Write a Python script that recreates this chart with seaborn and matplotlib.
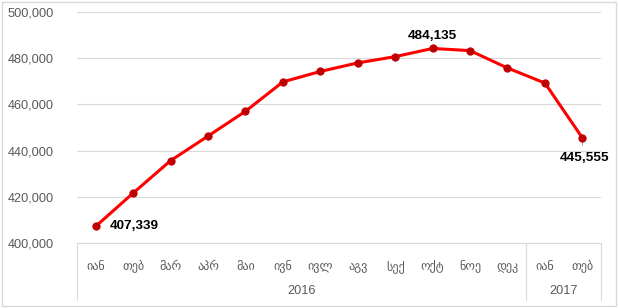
import matplotlib
matplotlib.use("Agg")
import matplotlib.pyplot as plt
import matplotlib.ticker as mticker
from matplotlib.patches import Rectangle
import seaborn as sns
import pandas as pd

months = ["იან", "თებ", "მარ", "აპრ", "მაი", "ივნ", "ივლ", "აგვ", "სექ", "ოქტ", "ნოე", "დეკ", "იან", "თებ"]
years = ["2016", "2017"]
year_counts = [12, 2]
values = [407339, 421700, 435700, 446300, 457000, 469700, 474200, 477900,
          480600, 484135, 483200, 475700, 469200, 445555]
labeled = {0: "right", 9: "above", 13: "below"}

sns.set_theme(style="white")
plt.rcParams["font.family"] = ["Liberation Sans", "DejaVu Sans"]

df = pd.DataFrame({"pos": range(len(values)), "value": values})

fig = plt.figure(figsize=(6.19, 3.08), dpi=100)
ax = fig.add_axes([0.1244, 0.210, 0.8466, 0.752])

sns.lineplot(data=df, x="pos", y="value", ax=ax, color="#FF0000", linewidth=2.2,
             marker="o", markersize=5.2, markerfacecolor="#C00000",
             markeredgecolor="#C00000", zorder=3)

ax.set_xlim(-0.5, len(values) - 0.5)
ax.set_ylim(400000, 500000)
ax.set_yticks(range(400000, 500001, 20000))
ax.yaxis.set_major_formatter(mticker.FuncFormatter(lambda v, p: f"{int(v):,}"))
ax.grid(axis="y", color="#D9D9D9", linewidth=0.8)
ax.grid(axis="x", visible=False)
for s in ["top", "right", "left"]:
    ax.spines[s].set_visible(False)
ax.spines["bottom"].set_color("#D9D9D9")
ax.spines["bottom"].set_linewidth(0.8)
ax.set_xlabel("")
ax.set_ylabel("")
ax.tick_params(axis="y", labelsize=9.2, labelcolor="#595959", length=0, pad=17)
ax.set_xticks(range(len(months)))
ax.set_xticklabels(months, family=["DejaVu Sans"])
ax.tick_params(axis="x", labelsize=8.7, labelcolor="#595959", length=0, pad=12)

# year group labels and separators
trans = ax.get_xaxis_transform()
start = -0.5
seps = [start]
for yr, cnt in zip(years, year_counts):
    end = start + cnt
    ax.text((start + end) / 2, -0.205, yr, transform=trans, ha="center", va="center",
            fontsize=9.2, color="#595959")
    seps.append(end)
    start = end
for sx in seps:
    ax.plot([sx, sx], [0, -0.245], transform=trans, color="#D9D9D9", linewidth=0.8,
            clip_on=False)

# data labels
for i, where in labeled.items():
    v = values[i]
    txt = f"{v:,}"
    if where == "right":
        ax.annotate(txt, (i, v), xytext=(10, 0), textcoords="offset points",
                    ha="left", va="center", fontsize=9.7, fontweight="bold", color="black")
    elif where == "above":
        ax.annotate(txt, (i, v), xytext=(0, 9), textcoords="offset points",
                    ha="center", va="center", fontsize=9.7, fontweight="bold", color="black")
    else:
        ax.annotate(txt, (i, v), xytext=(1.5, -14.5), textcoords="offset points",
                    ha="center", va="center", fontsize=9.7, fontweight="bold", color="black",
                    annotation_clip=False)
        ax.plot([i, i], [v - 800, v - 3300], color="#A6A6A6", linewidth=0.7, zorder=2)

fig.patches.append(Rectangle((0.003, 0.006), 0.992, 0.988, transform=fig.transFigure,
                             fill=False, edgecolor="#D9D9D9", linewidth=1.0))

fig.savefig("out.png", dpi=100)
